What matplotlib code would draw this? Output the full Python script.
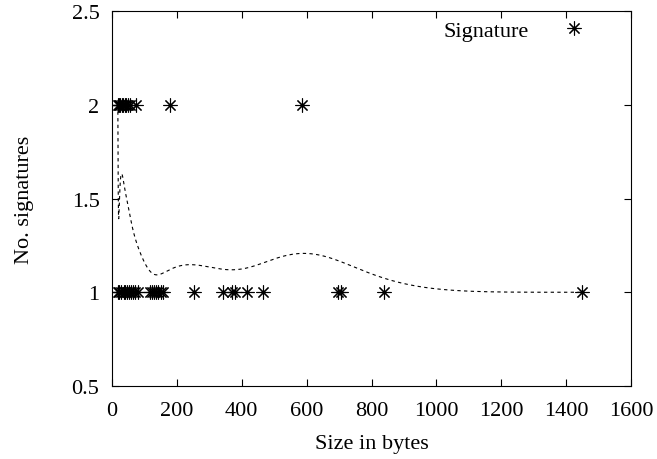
import math
import numpy as np
import matplotlib
matplotlib.use("Agg")
import matplotlib.pyplot as plt

# signature sizes (bytes) with 2 signatures
sizes_two = [18, 23, 26, 30, 34, 39, 44, 50, 56, 74, 178, 585]
# signature sizes (bytes) with 1 signature
sizes_one = [20, 21, 28, 36, 41, 47, 53, 60, 66, 72, 80, 118, 124, 130, 136,
             142, 150, 158, 252, 342, 370, 378, 415, 465, 697, 706, 840, 1449]

x_ticks = [0, 200, 400, 600, 800, 1000, 1200, 1400, 1600]
y_ticks = [0.5, 1, 1.5, 2, 2.5]


def bezier_smooth(xs, ys, n=800):
    """gnuplot-style 'smooth bezier': sort, average duplicate x, Bezier through all."""
    pts = {}
    for x, y in zip(xs, ys):
        pts.setdefault(x, []).append(y)
    px = np.array(sorted(pts))
    py = np.array([np.mean(pts[k]) for k in px])
    deg = len(px) - 1
    t = np.linspace(0, 1, n)
    bx = np.zeros(n)
    by = np.zeros(n)
    for i in range(deg + 1):
        b = math.comb(deg, i) * t ** i * (1 - t) ** (deg - i)
        bx += b * px[i]
        by += b * py[i]
    return bx, by


plt.rcParams['font.family'] = ['Liberation Serif', 'DejaVu Serif']
plt.rcParams['font.size'] = 16

fig = plt.figure(figsize=(6.57, 4.6), dpi=100)
ax = fig.add_axes([112 / 657, 1 - 387 / 460, (631 - 112) / 657, (387 - 12) / 460])

all_x = sizes_two + sizes_one
all_y = [2] * len(sizes_two) + [1] * len(sizes_one)

star = (8, 2, 0)
ax.plot(all_x, all_y, linestyle='none', marker=star, markersize=10,
        markeredgewidth=0.8, color='black', label='Signature')

cx, cy = bezier_smooth(all_x, all_y)
ax.plot(cx, cy, color='black', linewidth=0.8, linestyle=(0, (3, 3)))

ax.set_xlim(0, 1600)
ax.set_ylim(0.5, 2.5)
ax.set_xticks(x_ticks)
ax.set_yticks(y_ticks)
ax.set_yticklabels(['0.5', '1', '1.5', '2', '2.5'])
ax.tick_params(direction='in', top=True, right=True, length=5, width=0.8)
ax.tick_params(axis='x', pad=11)
ax.tick_params(axis='y', pad=9)
for s in ax.spines.values():
    s.set_linewidth(0.8)

ax.set_xlabel('Size in bytes', labelpad=10)
ax.set_ylabel('No. signatures', labelpad=27)

ax.legend(loc='upper right', frameon=False, markerfirst=False,
          handlelength=1.2, handletextpad=1.4, borderpad=0, borderaxespad=0,
          bbox_to_anchor=(587 / 657, 1 - 21 / 460), bbox_transform=fig.transFigure)

fig.savefig('out.png', dpi=100)
